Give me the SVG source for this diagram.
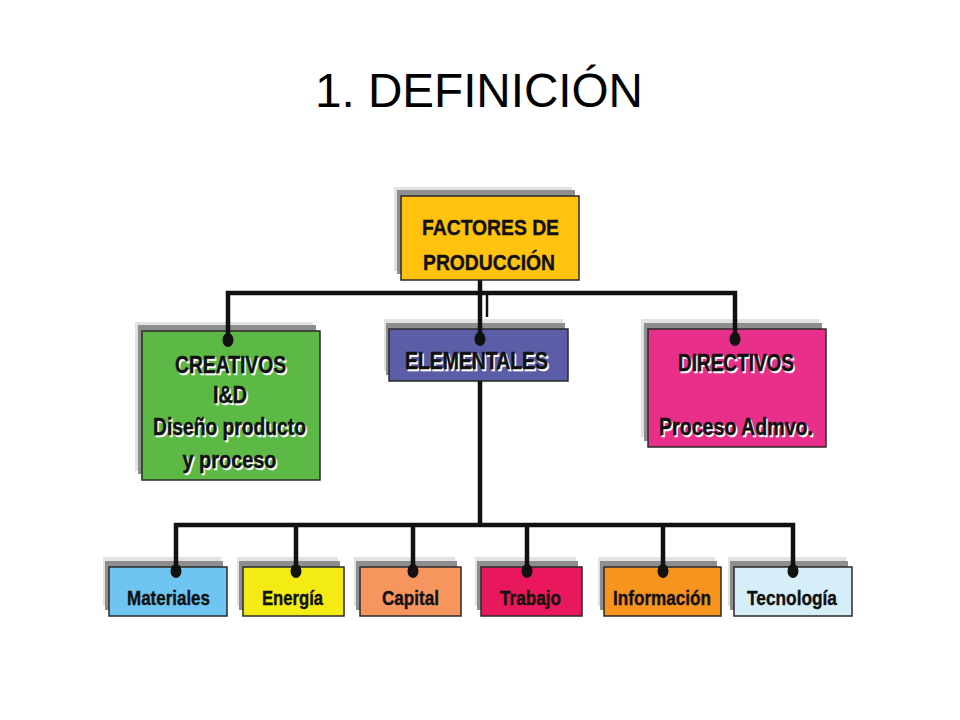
<svg xmlns="http://www.w3.org/2000/svg" width="960" height="720" viewBox="0 0 960 720">
<style>
.lt{fill:#e2e2e2}
.dk{fill:#8e8e8e}
.bx{stroke:#2a2a2a;stroke-width:1.5}
.t{font-family:"Liberation Sans",Arial,sans-serif;font-weight:bold;text-anchor:middle;fill:#111;stroke:#111;stroke-width:0.4}
.w{fill:#ffffff;stroke:#ffffff}
.c{fill:none;stroke:#111;stroke-width:4.5;stroke-linejoin:miter;stroke-linecap:butt}
.d{fill:#111}
</style>
<rect width="960" height="720" fill="#ffffff"/>
<text x="479" y="107" font-family="'Liberation Sans',Arial,sans-serif" font-size="48" text-anchor="middle" fill="#000" textLength="328" lengthAdjust="spacingAndGlyphs">1. DEFINICIÓN</text>

<g id="factores">
<rect class="lt" x="394" y="187" width="178" height="84"/>
<rect class="dk" x="397" y="190" width="178" height="84"/>
<rect class="bx" x="401" y="196" width="178" height="84" fill="#FFC20E"/>
<text class="t" x="490.5" y="235" font-size="22" textLength="137" lengthAdjust="spacingAndGlyphs">FACTORES DE</text>
<text class="t" x="489" y="270" font-size="22" textLength="132" lengthAdjust="spacingAndGlyphs">PRODUCCIÓN</text>
</g>

<g id="creativos">
<rect class="lt" x="135" y="322" width="178" height="149"/>
<rect class="dk" x="138" y="325" width="178" height="149"/>
<rect class="bx" x="142" y="331" width="178" height="149" fill="#5DB946"/>
<text x="232" y="374.5" font-size="24" textLength="111" lengthAdjust="spacingAndGlyphs" class="t w">CREATIVOS</text>
<text x="231.5" y="404.5" font-size="24" textLength="34" lengthAdjust="spacingAndGlyphs" class="t w">I&amp;D</text>
<text x="231" y="436.5" font-size="24" textLength="153" lengthAdjust="spacingAndGlyphs" class="t w">Diseño producto</text>
<text x="231" y="469.5" font-size="24" textLength="94" lengthAdjust="spacingAndGlyphs" class="t w">y proceso</text>
<text class="t" x="230.5" y="373" font-size="24" textLength="111" lengthAdjust="spacingAndGlyphs">CREATIVOS</text>
<text class="t" x="230" y="403" font-size="24" textLength="34" lengthAdjust="spacingAndGlyphs">I&amp;D</text>
<text class="t" x="229.5" y="435" font-size="24" textLength="153" lengthAdjust="spacingAndGlyphs">Diseño producto</text>
<text class="t" x="229.5" y="468" font-size="24" textLength="94" lengthAdjust="spacingAndGlyphs">y proceso</text>
</g>

<g id="elementales">
<rect class="lt" x="384" y="319" width="179" height="52"/>
<rect class="dk" x="386" y="323" width="179" height="52"/>
<rect class="bx" x="389" y="329" width="179" height="52" fill="#5B5EA6"/>
<text class="t w" x="478" y="370.5" font-size="24" textLength="143" lengthAdjust="spacingAndGlyphs">ELEMENTALES</text>
<text class="t" x="476.5" y="369" font-size="24" textLength="143" lengthAdjust="spacingAndGlyphs">ELEMENTALES</text>
</g>

<g id="directivos">
<rect class="lt" x="641" y="319" width="178" height="118"/>
<rect class="dk" x="644" y="323" width="178" height="118"/>
<rect class="bx" x="648" y="329" width="178" height="118" fill="#E8308A"/>
<text class="t w" x="737.5" y="372.5" font-size="24" textLength="116" lengthAdjust="spacingAndGlyphs">DIRECTIVOS</text>
<text class="t" x="736" y="371" font-size="24" textLength="116" lengthAdjust="spacingAndGlyphs">DIRECTIVOS</text>
<text class="t w" x="737.5" y="436.5" font-size="24" textLength="154" lengthAdjust="spacingAndGlyphs">Proceso Admvo.</text>
<text class="t" x="736" y="435" font-size="24" textLength="154" lengthAdjust="spacingAndGlyphs">Proceso Admvo.</text>
</g>

<g id="materiales">
<rect class="lt" x="103" y="557" width="118" height="49"/>
<rect class="dk" x="105" y="561" width="118" height="49"/>
<rect class="bx" x="109" y="567" width="118" height="49" fill="#6EC6F0"/>
<text class="t" x="168.5" y="605" font-size="21" textLength="83" lengthAdjust="spacingAndGlyphs">Materiales</text>
</g>
<g id="energia">
<rect class="lt" x="237" y="557" width="101" height="49"/>
<rect class="dk" x="239" y="561" width="101" height="49"/>
<rect class="bx" x="243" y="567" width="101" height="49" fill="#F5EB14"/>
<text class="t" x="292.5" y="605" font-size="21" textLength="61" lengthAdjust="spacingAndGlyphs">Energía</text>
</g>
<g id="capital">
<rect class="lt" x="354" y="557" width="101" height="49"/>
<rect class="dk" x="356" y="561" width="101" height="49"/>
<rect class="bx" x="360" y="567" width="101" height="49" fill="#F7955F"/>
<text class="t" x="410.5" y="605" font-size="21" textLength="57" lengthAdjust="spacingAndGlyphs">Capital</text>
</g>
<g id="trabajo">
<rect class="lt" x="475" y="557" width="101" height="49"/>
<rect class="dk" x="477" y="561" width="101" height="49"/>
<rect class="bx" x="481" y="567" width="101" height="49" fill="#E9185D"/>
<text class="t" x="530.5" y="605" font-size="21" textLength="61" lengthAdjust="spacingAndGlyphs">Trabajo</text>
</g>
<g id="informacion">
<rect class="lt" x="598" y="557" width="117" height="49"/>
<rect class="dk" x="600" y="561" width="117" height="49"/>
<rect class="bx" x="604" y="567" width="117" height="49" fill="#F7941D"/>
<text class="t" x="662" y="605" font-size="21" textLength="98" lengthAdjust="spacingAndGlyphs">Información</text>
</g>
<g id="tecnologia">
<rect class="lt" x="728" y="557" width="118" height="49"/>
<rect class="dk" x="730" y="561" width="118" height="49"/>
<rect class="bx" x="734" y="567" width="118" height="49" fill="#D5EEF7"/>
<text class="t" x="792" y="605" font-size="21" textLength="90" lengthAdjust="spacingAndGlyphs">Tecnología</text>
</g>

<g id="connectors">
<path class="c" d="M480 280 V293"/>
<path class="c" d="M228 340 V293 H735 V340"/>
<path class="c" d="M480 293 V340"/>
<path class="c" style="stroke-width:2.5" d="M487 295 V317"/>
<path class="c" d="M480 381 V525"/>
<path class="c" d="M176 571 V525 H793 V571"/>
<path class="c" d="M296 525 V571 M413 525 V571 M527 525 V571 M663 525 V571"/>
<ellipse class="d" cx="228" cy="340" rx="5.5" ry="7"/>
<ellipse class="d" cx="480" cy="339" rx="5.5" ry="7"/>
<ellipse class="d" cx="735" cy="339" rx="5.5" ry="7"/>
<ellipse class="d" cx="176" cy="571" rx="5.5" ry="7"/>
<ellipse class="d" cx="296" cy="571" rx="5.5" ry="7"/>
<ellipse class="d" cx="413" cy="571" rx="5.5" ry="7"/>
<ellipse class="d" cx="527" cy="571" rx="5.5" ry="7"/>
<ellipse class="d" cx="663" cy="571" rx="5.5" ry="7"/>
<ellipse class="d" cx="793" cy="571" rx="5.5" ry="7"/>
</g>
</svg>
